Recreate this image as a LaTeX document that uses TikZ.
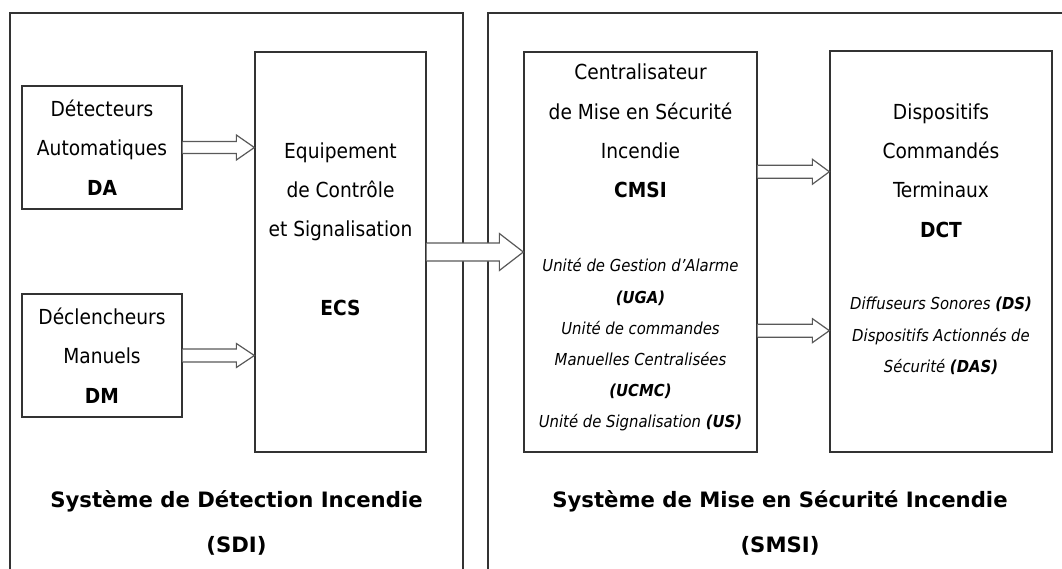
\documentclass[tikz,border=0pt]{standalone}
\usepackage{fontspec}
\setmainfont{DejaVu Sans Condensed}
\newfontfamily\titlefont{DejaVu Sans}
\usetikzlibrary{calc}
\tikzset{>=latex,%
  cadre/.style={draw=black!80,line width=1.3pt},
  bloc/.style={draw=black!80,line width=1.3pt,align=center,inner sep=0pt,
    font=\fontsize{20.7}{39.3}\selectfont},
  txt/.style={align=center,inner sep=0pt,font=\fontsize{20.7}{39.3}\selectfont},
  liste/.style={align=center,inner sep=0pt,font=\fontsize{16.5}{31.2}\selectfont\itshape},
  titre/.style={align=center,inner sep=0pt,
    font=\titlefont\bfseries\fontsize{21.2}{45}\selectfont},
  fleche/.style={draw=black!65,line width=1.2pt,fill=white,line join=miter}}

% hollow arrow: start, tip, shaft half width, head half width, head length
\newcommand{\flechecreuse}[5]{%
  \draw[fleche] ($(#1)+(0,-#3)$) -- ($(#2)+(-#5,-#3)$) -- ($(#2)+(-#5,-#4)$)
    -- (#2) -- ($(#2)+(-#5,#4)$) -- ($(#2)+(-#5,#3)$) -- ($(#1)+(0,#3)$);}

\begin{document}
\begin{tikzpicture}[x=1pt,y=-1pt]
  \useasboundingbox (0,0) rectangle (1062,568);
  \clip (0,0) rectangle (1062,568);
  \draw[cadre] (10,13) rectangle (463,600);
  \draw[cadre] (488,13) rectangle (1075,600);

  \node[bloc,minimum width=160pt,minimum height=123pt] (da) at (102,147.5)
    {D\'etecteurs\\Automatiques\\\textbf{DA}};
  \node[bloc,minimum width=160pt,minimum height=123pt] (dm) at (102,355.5)
    {D\'eclencheurs\\Manuels\\\textbf{DM}};
  \node[bloc,minimum width=171pt,minimum height=400pt] (ecs) at (340.5,252) {};
  \node[bloc,minimum width=233pt,minimum height=400pt] (cmsi) at (640.5,252) {};
  \node[bloc,minimum width=222pt,minimum height=401pt] (dct) at (941,251.5) {};

  \node[txt] (ecs-txt) at (340.5,229)
    {Equipement\\de Contr\^ole\\et Signalisation\\[39.3pt]\textbf{ECS}};
  \node[txt] (cmsi-txt) at (640.5,131)
    {Centralisateur\\de Mise en S\'ecurit\'e\\Incendie\\\textbf{CMSI}};
  \node[liste] (cmsi-liste) at (640.5,345)
    {Unit\'e de Gestion d'Alarme\\\textbf{(UGA)}\\Unit\'e de commandes\\
     Manuelles Centralis\'ees\\\textbf{(UCMC)}\\Unit\'e de Signalisation \textbf{(US)}};
  \node[txt] (dct-txt) at (941,170.5)
    {Dispositifs\\Command\'es\\Terminaux\\\textbf{DCT}};
  \node[liste] (dct-liste) at (941,336)
    {Diffuseurs Sonores \textbf{(DS)}\\Dispositifs Actionn\'es de\\
     S\'ecurit\'e \textbf{(DAS)}};

  \node[titre] (sdi) at (236.5,522.5) {Syst\`eme de D\'etection Incendie\\(SDI)};
  \node[titre] (smsi) at (780,522.5) {Syst\`eme de Mise en S\'ecurit\'e Incendie\\(SMSI)};

  \coordinate (da-ecs) at (ecs.west |- da.east);
  \coordinate (dm-ecs) at (ecs.west |- dm.east);
  \coordinate (cmsi-haut) at ($(cmsi.north east)!0.3!(cmsi.south east)$);
  \coordinate (cmsi-bas) at ($(cmsi.north east)!0.696!(cmsi.south east)$);
  \coordinate (dct-haut) at (dct.west |- cmsi-haut);
  \coordinate (dct-bas) at (dct.west |- cmsi-bas);

  \flechecreuse{da.east}{da-ecs}{6}{12.5}{18}
  \flechecreuse{dm.east}{dm-ecs}{6.5}{12}{18}
  \flechecreuse{ecs.east}{cmsi.west}{9}{18.5}{24}
  \flechecreuse{cmsi-haut}{dct-haut}{6.5}{12.5}{17}
  \flechecreuse{cmsi-bas}{dct-bas}{6.5}{12}{17}
\end{tikzpicture}
\end{document}
